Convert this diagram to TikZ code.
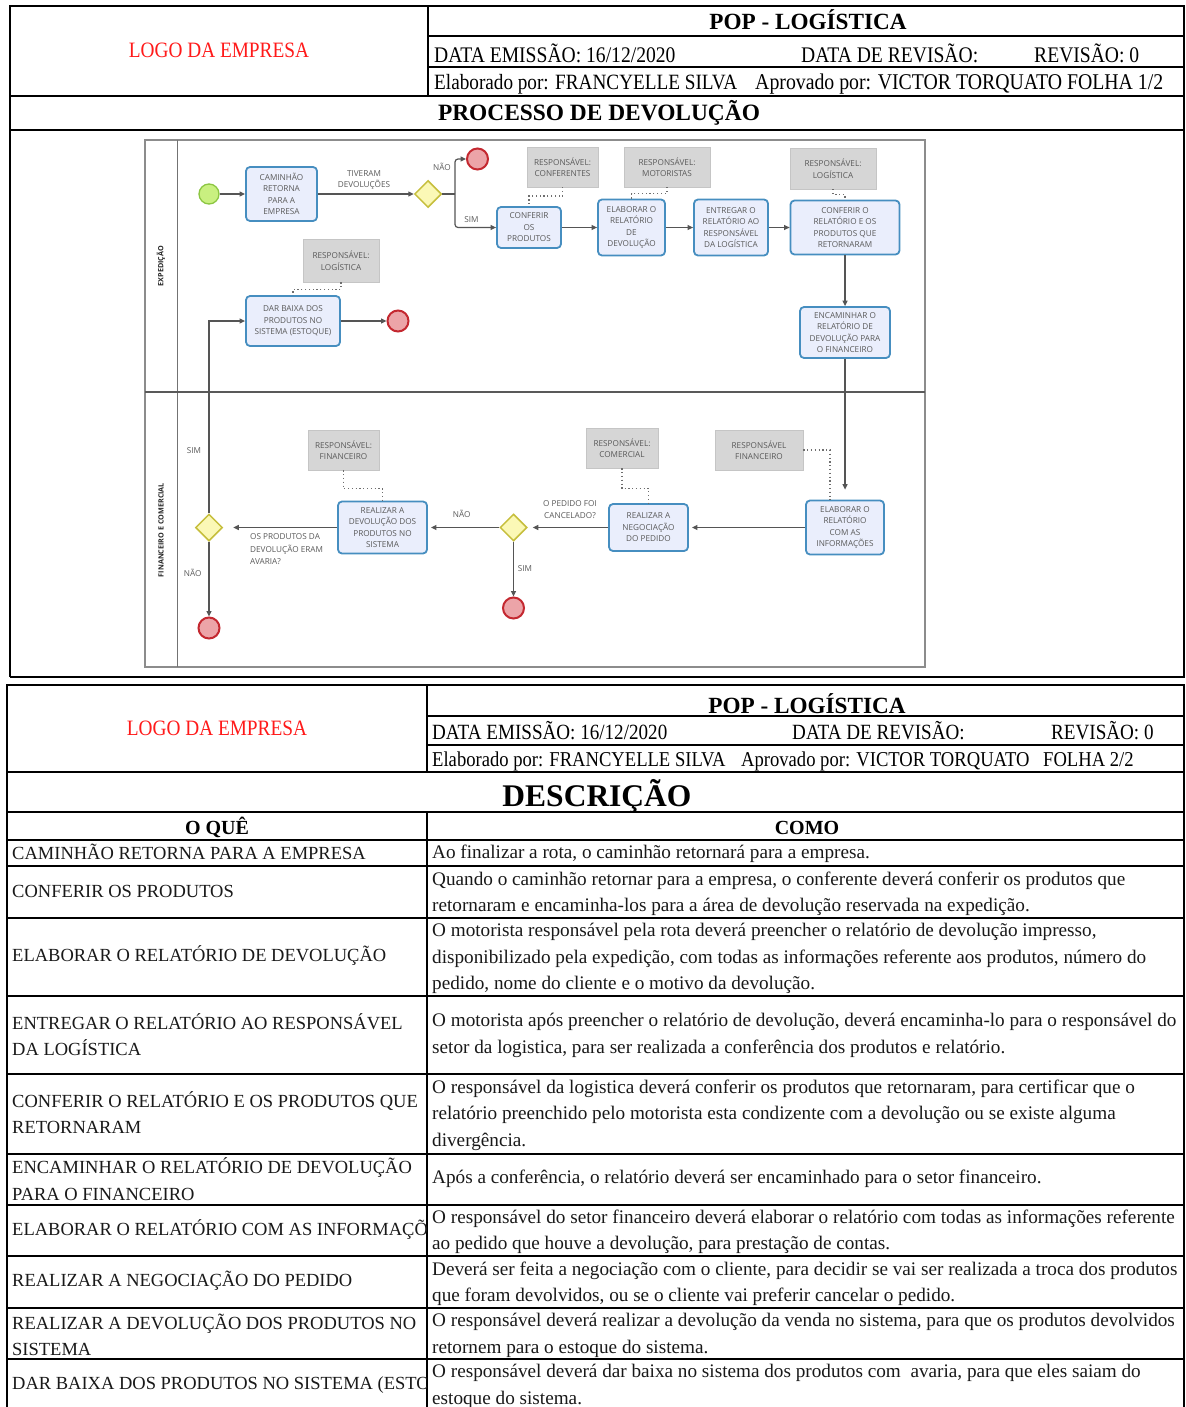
\documentclass[tikz,border=0pt]{standalone}
\usepackage{fontspec}
\usetikzlibrary{arrows.meta,shapes.geometric}
\newfontfamily\hdrfont[FakeStretch=0.88]{Liberation Serif}
\newfontfamily\bodyfont{Liberation Serif}
\newfontfamily\diafont{Open Sans}
\newcommand\dgmfont{\diafont\fontsize{8.2}{11.5}\selectfont}
% header text: size given as the width-equivalent size of the unstretched face
\newcommand\hsz[1]{\hdrfont\fontsize{\fpeval{#1/0.88}}{\fpeval{#1/0.88}}\selectfont}
\newcommand\tsz[1]{\bodyfont\bfseries\fontsize{#1}{#1}\selectfont}
\definecolor{taskblue}{RGB}{70,142,192}
\definecolor{taskfill}{RGB}{234,238,252}
\definecolor{txtgray}{RGB}{90,90,90}
\definecolor{flowgray}{RGB}{85,85,85}
\definecolor{notegray}{RGB}{214,214,214}
\definecolor{gatefill}{RGB}{251,248,182}
\definecolor{gateborder}{RGB}{198,190,60}
\definecolor{startfill}{RGB}{201,240,128}
\definecolor{startborder}{RGB}{140,198,66}
\definecolor{endfill}{RGB}{236,164,168}
\definecolor{endborder}{RGB}{196,40,48}
\definecolor{logored}{RGB}{255,26,26}
\tikzset{
  flow/.style={draw=flowgray, line width=1.2pt, -{Triangle[length=5.5pt,width=5pt]}},
  assoc/.style={draw=flowgray!85, line width=1.3pt, dash pattern=on 1.2pt off 2.6pt},
  task/.style={draw=taskblue, fill=taskfill, line width=1.8pt, rounded corners=4pt,
    align=center, text=txtgray, inner sep=0pt, font=\dgmfont},
  note/.style={fill=notegray, draw=notegray!92!black, line width=0.6pt, align=center,
    text=txtgray, inner sep=0pt, font=\dgmfont},
  gate/.style={diamond, aspect=1, draw=gateborder, fill=gatefill, line width=1.5pt,
    minimum size=27pt, inner sep=0pt},
  startev/.style={circle, draw=startborder, fill=startfill, line width=1.3pt,
    minimum size=20pt, inner sep=0pt},
  endev/.style={circle, draw=endborder, fill=endfill, line width=2pt,
    minimum size=21pt, inner sep=0pt},
  lbl/.style={text=txtgray, font=\dgmfont, align=center, inner sep=0pt},
  lane/.style={rotate=90, font=\diafont\bfseries\fontsize{7.2}{8}\selectfont, text=black!85, inner sep=0pt},
  frame/.style={draw=black, line width=1.8pt},
  hdr/.style={inner sep=0pt, anchor=base west},
  ttl/.style={inner sep=0pt, anchor=base},
  cellA/.style={inner sep=0pt, anchor=west, align=left, text=black!90, font=\bodyfont\fontsize{18.5}{26.5}\selectfont},
  cellB/.style={inner sep=0pt, anchor=west, align=left, text=black!90, font=\bodyfont\fontsize{19.2}{26.3}\selectfont},
}
\begin{document}
\begin{tikzpicture}[x=1pt,y=-1pt]
\useasboundingbox (0,0) rectangle (1185,1407);
\fill[white] (0,0) rectangle (1185,1407);

% ---------- sheet 1: header grid ----------
\draw[frame] (10,6) -- (1185,6);
\draw[frame] (10,5.1) -- (10,677);
\draw[frame] (1184,6) -- (1184,677);
\draw[frame] (428,6) -- (428,96);
\draw[frame] (428,36) -- (1185,36);
\draw[frame] (428,67) -- (1185,67);
\draw[frame] (10,96) -- (1185,96);
\draw[frame] (10,130) -- (1185,130);
\draw[frame] (10,677) -- (1185,677);

\node[ttl, text=logored, font=\hsz{19.3}] (logo1) at (219,58) {LOGO DA EMPRESA};
\node[ttl, font=\tsz{23.2}] (pop1) at (808,30) {POP - LOGÍSTICA};
\node[hdr, font=\hsz{19.6}] (em1) at (434,62.3) {DATA EMISSÃO: 16/12/2020};
\node[hdr, font=\hsz{19.6}] (dr1) at (801,62.3) {DATA DE REVISÃO:};
\node[hdr, font=\hsz{19.6}] (rv1) at (1034,62.3) {REVISÃO: 0};
\node[hdr, font=\hsz{19.2}] (el1) at (434,89.3) {Elaborado por: FRANCYELLE SILVA};
\node[hdr, font=\hsz{19.8}] (ap1) at (755,89.3) {Aprovado por: VICTOR TORQUATO FOLHA 1/2};
\node[ttl, font=\tsz{23.4}] (proc) at (599,120.7) {PROCESSO DE DEVOLUÇÃO};

% ---------- process diagram ----------
\draw[draw=black!45, line width=1.2pt, fill=white] (145,140) rectangle (925,667);
\draw[draw=black!55, line width=1pt] (177,140) -- (177,667);
\draw[draw=black!65, line width=1.6pt] (145,392) -- (925,392);
\node[lane] (laneA) at (161,266) {EXPEDIÇÃO};
\node[lane] (laneB) at (161,530) {FINANCEIRO E COMERCIAL};

% events and gateways
\node[startev] (s) at (209,194) {};
\node[endev] (e1) at (477.5,159) {};
\node[endev] (e2) at (398,321) {};
\node[endev] (e3) at (513.5,608) {};
\node[endev] (e4) at (209,628) {};
\node[gate] (g1) at (428,194) {};
\node[gate] (g2) at (513.5,527.5) {};
\node[gate] (g3) at (209,527.5) {};

% tasks
\node[task, minimum width=71pt, minimum height=54pt] (t1) at (281.5,194) {CAMINHÃO\\RETORNA\\PARA A\\EMPRESA};
\node[task, minimum width=64pt, minimum height=41pt] (t2) at (529,227.5) {CONFERIR\\OS\\PRODUTOS};
\node[task, minimum width=67pt, minimum height=56pt] (t3) at (631.5,227.5) {ELABORAR O\\RELATÓRIO\\DE\\DEVOLUÇÃO};
\node[task, minimum width=74pt, minimum height=56pt] (t4) at (731,227.5) {ENTREGAR O\\RELATÓRIO AO\\RESPONSÁVEL\\DA LOGÍSTICA};
\node[task, minimum width=109pt, minimum height=54pt] (t5) at (845,227.5) {CONFERIR O\\RELATÓRIO E OS\\PRODUTOS QUE\\RETORNARAM};
\node[task, minimum width=90pt, minimum height=51pt] (t6) at (845,332.5) {ENCAMINHAR O\\RELATÓRIO DE\\DEVOLUÇÃO PARA\\O FINANCEIRO};
\node[task, minimum width=94pt, minimum height=50pt] (t7) at (293,321) {DAR BAIXA DOS\\PRODUTOS NO\\SISTEMA (ESTOQUE)};
\node[task, minimum width=78pt, minimum height=54pt] (t8) at (845,527.5) {ELABORAR O\\RELATÓRIO\\COM AS\\INFORMAÇÕES};
\node[task, minimum width=79pt, minimum height=47pt] (t9) at (648.5,527.5) {REALIZAR A\\NEGOCIAÇÃO\\DO PEDIDO};
\node[task, minimum width=89pt, minimum height=52pt] (t10) at (382.5,527.5) {REALIZAR A\\DEVOLUÇÃO DOS\\PRODUTOS NO\\SISTEMA};

% annotations
\node[note, minimum width=71pt, minimum height=40pt] (a1) at (562.5,167) {RESPONSÁVEL:\\CONFERENTES};
\node[note, minimum width=86pt, minimum height=40pt] (a2) at (667,167) {RESPONSÁVEL:\\MOTORISTAS};
\node[note, minimum width=86pt, minimum height=41pt] (a3) at (833,168.5) {RESPONSÁVEL:\\LOGÍSTICA};
\node[note, minimum width=76pt, minimum height=43pt] (a4) at (341,260.5) {RESPONSÁVEL:\\LOGÍSTICA};
\node[note, minimum width=71pt, minimum height=40pt] (a5) at (343.5,450) {RESPONSÁVEL:\\FINANCEIRO};
\node[note, minimum width=72pt, minimum height=40pt] (a6) at (622,448) {RESPONSÁVEL:\\COMERCIAL};
\node[note, minimum width=88pt, minimum height=40pt] (a7) at (759,450) {RESPONSÁVEL\\FINANCEIRO};

% sequence flows
\coordinate (j1) at (455,194);
\draw[flow] (s) -- (t1);
\draw[flow] (t1) -- (g1);
\draw[flow, -] (g1.east) -- (j1);
\draw[flow, rounded corners=3pt] (j1) |- (e1.west);
\draw[flow, rounded corners=3pt] (j1) |- (t2.west);
\draw[flow] (t2) -- (t3);
\draw[flow] (t3) -- (t4);
\draw[flow] (t4) -- (t5);
\draw[flow] (t5) -- (t6);
\draw[flow, shorten >=10pt] (t6) -- (t8);
\draw[flow, shorten >=3pt] (t8) -- (t9);
\draw[flow, shorten >=5pt] (t9) -- (g2);
\draw[flow, shorten >=3pt] (g2) -- (t10);
\draw[flow] (g2) -- (e3);
\draw[flow, shorten >=10pt] (t10) -- (g3);
\draw[flow] (g3.north) |- (t7.west);
\draw[flow] (g3) -- (e4);
\draw[flow] (t7) -- (e2);

% associations
\draw[assoc] (a1.south) -- ++(0,8.7) -| (t2.north);
\draw[assoc] (a2.south) -- ++(0,6.3) -| (t3.north);
\draw[assoc] (a3.south) -- ++(0,5.3) -| (t5.north);
\draw[assoc] (a4.south) -- ++(0,7) -| (t7.north);
\draw[assoc] (a5.south) -- ++(0,18.3) -| (t10.north);
\draw[assoc] (a6.south) -- ++(0,20.3) -| (t9.north);
\draw[assoc] (a7.east) -| ([xshift=-15pt]t8.north);

% flow labels
\node[lbl] (lb1) at (364,180) {TIVERAM\\DEVOLUÇÕES};
\node[lbl] (lb2) at (442,167) {NÃO};
\node[lbl] (lb3) at (471.5,220) {SIM};
\node[lbl] (lb4) at (570,509.5) {O PEDIDO FOI\\CANCELADO?};
\node[lbl] (lb5) at (461.7,514) {NÃO};
\node[lbl] (lb6) at (525,569) {SIM};
\node[lbl, align=left, anchor=west, font=\diafont\fontsize{8.2}{12.5}\selectfont] (lb7) at (250,549.3) {OS PRODUTOS DA\\DEVOLUÇÃO ERAM\\AVARIA?};
\node[lbl] (lb8) at (194,450.7) {SIM};
\node[lbl] (lb9) at (192.7,573.3) {NÃO};

% ---------- sheet 2: header grid ----------
\draw[frame] (7,685) -- (1185,685);
\draw[frame] (7,684.1) -- (7,1407);
\draw[frame] (1184,685) -- (1184,1407);
\draw[frame] (427,685) -- (427,772);
\draw[frame] (427,716) -- (1185,716);
\draw[frame] (427,745) -- (1185,745);
\draw[frame] (7,772) -- (1185,772);
\draw[frame] (7,812) -- (1185,812);
\draw[frame] (7,840) -- (1185,840);
\draw[frame] (427,812) -- (427,1407);
\foreach \yy in {866,918,996,1074,1154,1205,1256,1308,1359}
  \draw[frame, line width=1.6pt] (7,\yy) -- (1185,\yy);

\node[ttl, text=logored, font=\hsz{19.3}] (logo2) at (217,735) {LOGO DA EMPRESA};
\node[ttl, font=\tsz{23.2}] (pop2) at (807,713) {POP - LOGÍSTICA};
\node[hdr, font=\hsz{19.1}] (em2) at (432,739.5) {DATA EMISSÃO: 16/12/2020};
\node[hdr, font=\hsz{19.1}] (dr2) at (792,739.5) {DATA DE REVISÃO:};
\node[hdr, font=\hsz{19.1}] (rv2) at (1051,739.5) {REVISÃO: 0};
\node[hdr, font=\hsz{18.6}] (el2) at (432,766) {Elaborado por: FRANCYELLE SILVA};
\node[hdr, font=\hsz{18.6}] (ap2) at (741,766) {Aprovado por: VICTOR TORQUATO};
\node[hdr, font=\hsz{18.6}] (fl2) at (1043,766) {FOLHA 2/2};
\node[ttl, font=\tsz{31.5}] (desc) at (597,806) {DESCRIÇÃO};
\node[ttl, font=\tsz{20}] (oque) at (217,834) {O QUÊ};
\node[ttl, font=\tsz{20}] (como) at (807,834) {COMO};

% step names
\node[cellA] (q1) at (12,852) {CAMINHÃO RETORNA PARA A EMPRESA};
\node[cellA] (q2) at (12,891) {CONFERIR OS PRODUTOS};
\node[cellA] (q3) at (12,956) {ELABORAR O RELATÓRIO DE DEVOLUÇÃO};
\node[cellA] (q4) at (12,1034.5) {ENTREGAR O RELATÓRIO AO RESPONSÁVEL\\DA LOGÍSTICA};
\node[cellA] (q5) at (12,1112.5) {CONFERIR O RELATÓRIO E OS PRODUTOS QUE\\RETORNARAM};
\node[cellA] (q6) at (12,1179) {ENCAMINHAR O RELATÓRIO DE DEVOLUÇÃO\\PARA O FINANCEIRO};
\begin{scope}
\clip (8,1206) rectangle (426,1407);
\node[cellA] (q7) at (12,1230) {ELABORAR O RELATÓRIO COM AS INFORMAÇÕES};
\node[cellA] (q10) at (12,1385) {DAR BAIXA DOS PRODUTOS NO SISTEMA (ESTOQUE)};
\end{scope}
\node[cellA] (q8) at (12,1281) {REALIZAR A NEGOCIAÇÃO DO PEDIDO};
\node[cellA] (q9) at (12,1335) {REALIZAR A DEVOLUÇÃO DOS PRODUTOS NO\\SISTEMA};

% step descriptions
\node[cellB] (c1) at (432,854) {Ao finalizar a rota, o caminhão retornará para a empresa.};
\node[cellB] (c2) at (432,894) {Quando o caminhão retornar para a empresa, o conferente deverá conferir os produtos que\\retornaram e encaminha-los para a área de devolução reservada na expedição.};
\node[cellB] (c3) at (432,958.5) {O motorista responsável pela rota deverá preencher o relatório de devolução impresso,\\disponibilizado pela expedição, com todas as informações referente aos produtos, número do\\pedido, nome do cliente e o motivo da devolução.};
\node[cellB] (c4) at (432,1035.5) {O motorista após preencher o relatório de devolução, deverá encaminha-lo para o responsável do\\setor da logistica, para ser realizada a conferência dos produtos e relatório.};
\node[cellB] (c5) at (432,1115) {O responsável da logistica deverá conferir os produtos que retornaram, para certificar que o\\relatório preenchido pelo motorista esta condizente com a devolução ou se existe alguma\\divergência.};
\node[cellB] (c6) at (432,1179) {Após a conferência, o relatório deverá ser encaminhado para o setor financeiro.};
\node[cellB] (c7) at (432,1232) {O responsável do setor financeiro deverá elaborar o relatório com todas as informações referente\\ao pedido que houve a devolução, para prestação de contas.};
\node[cellB] (c8) at (432,1283.5) {Deverá ser feita a negociação com o cliente, para decidir se vai ser realizada a troca dos produtos\\que foram devolvidos, ou se o cliente vai preferir cancelar o pedido.};
\node[cellB] (c9) at (432,1335.5) {O responsável deverá realizar a devolução da venda no sistema, para que os produtos devolvidos\\retornem para o estoque do sistema.};
\node[cellB] (c10) at (432,1386.5) {O responsável deverá dar baixa no sistema dos produtos com\ \ avaria, para que eles saiam do\\estoque do sistema.};
\end{tikzpicture}
\end{document}
